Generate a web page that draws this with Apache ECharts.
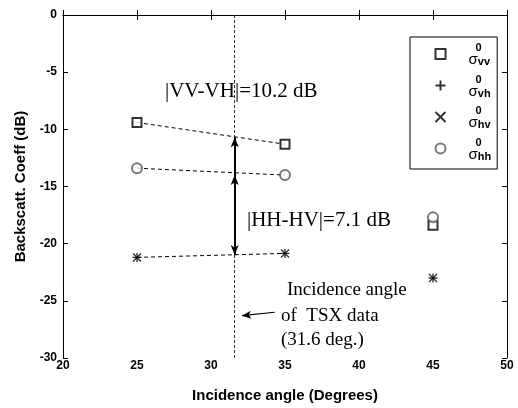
<!DOCTYPE html>
<html>
<head>
<meta charset="utf-8">
<script src="https://cdn.jsdelivr.net/npm/echarts@6/dist/echarts.min.js"></script>
<style>
  html, body { margin: 0; padding: 0; background: #fff; }
  #main { width: 518px; height: 408px; }
</style>
</head>
<body>
<div id="main"></div>
<script>
// values
const angles = [25, 35, 45];
const sigmaVV = [-9.4, -11.3, -18.4];
const sigmaVH = [-21.2, -20.85, -23.0];
const sigmaHV = [-21.2, -20.85, -23.0];
const sigmaHH = [-13.4, -14.0, -17.7];
const xTicks = [20, 25, 30, 35, 40, 45, 50];
const yTicks = [-30, -25, -20, -15, -10, -5, 0];
const tsxAngle = 31.6;
// where the arrows meet the dashed lines at the TSX angle
const arrowVV = -10.7;
const arrowHH = -14.0;
const arrowVH = -21.0;
// small arrow pointing at the TSX line
const noteArrowFrom = [34.3, -26.0];
const noteArrowTo = [32.1, -26.3];

const sans = 'Liberation Sans';

function pts(ys, n) {
    return angles.slice(0, n || angles.length).map((a, i) => [a, ys[i]]);
}

const plusPath = 'path://M5 0 L5 10 M0 5 L10 5';
const crossPath = 'path://M0 0 L10 10 M10 0 L0 10';

const legendLabels = {
    vv: '{g|}{h|}{z|0}\n{g|}{s|σ}{b|vv}',
    vh: '{g|}{h|}{z|0}\n{g|}{s|σ}{b|vh}',
    hv: '{g|}{h|}{z|0}\n{g|}{s|σ}{b|hv}',
    hh: '{g|}{h|}{z|0}\n{g|}{s|σ}{b|hh}'
};

function dashed(ys) {
    return {
        type: 'line', data: pts(ys, 2), symbol: 'none', silent: true,
        lineStyle: { color: '#000', width: 1, type: [4, 3] }, z: 1
    };
}

let myChart = echarts.init(document.getElementById('main'));
myChart.setOption({
    animation: false,
    backgroundColor: '#fff',
    grid: { left: 63, right: 11, top: 15, bottom: 43 },
    xAxis: [
        {
            type: 'value', min: xTicks[0], max: xTicks[xTicks.length - 1], interval: 5,
            name: 'Incidence angle (Degrees)', nameLocation: 'middle', nameGap: 30,
            nameTextStyle: { fontFamily: sans, fontWeight: 'bold', fontSize: 15, color: '#000' },
            axisLine: { lineStyle: { color: '#000', width: 1 } },
            axisTick: { inside: true, length: 5, lineStyle: { color: '#000' } },
            axisLabel: { fontFamily: sans, fontWeight: 'bold', fontSize: 12, color: '#000', margin: 2 },
            splitLine: { show: false }
        },
        {
            type: 'value', position: 'top', min: xTicks[0], max: xTicks[xTicks.length - 1], interval: 5,
            axisLine: { lineStyle: { color: '#000', width: 1 } },
            axisTick: { inside: true, length: 5, lineStyle: { color: '#000' } },
            axisLabel: { show: false }, splitLine: { show: false }
        }
    ],
    yAxis: [
        {
            type: 'value', min: yTicks[0], max: yTicks[yTicks.length - 1], interval: 5,
            name: 'Backscatt. Coeff (dB)', nameLocation: 'middle', nameGap: 34,
            nameTextStyle: { fontFamily: sans, fontWeight: 'bold', fontSize: 15, color: '#000' },
            axisLine: { lineStyle: { color: '#000', width: 1 } },
            axisTick: { inside: true, length: 5, lineStyle: { color: '#000' } },
            axisLabel: { fontFamily: sans, fontWeight: 'bold', fontSize: 12, color: '#000', margin: 6 },
            splitLine: { show: false }
        },
        {
            type: 'value', position: 'right', min: yTicks[0], max: yTicks[yTicks.length - 1], interval: 5,
            axisLine: { lineStyle: { color: '#000', width: 1 } },
            axisTick: { inside: true, length: 5, lineStyle: { color: '#000' } },
            axisLabel: { show: false }, splitLine: { show: false }
        }
    ],
    legend: {
        orient: 'vertical', left: 410, top: 37,
        padding: [5, 6, 7, 23], itemGap: 6,
        itemWidth: 10, itemHeight: 10,
        borderColor: '#000', borderWidth: 1,
        data: ['vv', 'vh', 'hv', 'hh'],
        formatter: name => legendLabels[name],
        textStyle: {
            color: '#000',
            rich: {
                g: { width: 18 },
                h: { width: 7 },
                z: { fontFamily: sans, fontWeight: 'bold', fontSize: 11, lineHeight: 10, color: '#000' },
                s: { fontFamily: sans, fontSize: 15, lineHeight: 12, color: '#000' },
                b: { fontFamily: sans, fontWeight: 'bold', fontSize: 11, lineHeight: 12, padding: [4, 0, 0, 0], color: '#000' }
            }
        }
    },
    series: [
        dashed(sigmaVV),
        dashed(sigmaHH),
        dashed(sigmaVH),
        {
            name: 'vv', type: 'scatter', data: pts(sigmaVV), symbol: 'emptyRect', symbolSize: 9,
            itemStyle: { color: '#000', borderWidth: 1.6 }, z: 3
        },
        {
            name: 'vh', type: 'scatter', data: pts(sigmaVH), symbol: plusPath, symbolSize: 9,
            itemStyle: { color: 'none', borderColor: '#000', borderWidth: 1.4 }, z: 3
        },
        {
            name: 'hv', type: 'scatter', data: pts(sigmaHV), symbol: crossPath, symbolSize: 8,
            itemStyle: { color: 'none', borderColor: '#000', borderWidth: 1.4 }, z: 3
        },
        {
            name: 'hh', type: 'scatter', data: pts(sigmaHH), symbol: 'emptyCircle', symbolSize: 10,
            itemStyle: { color: '#555', borderWidth: 1.4 }, z: 3
        },
        {
            name: 'annot', type: 'line', data: [], z: 2,
            markLine: {
                silent: true, animation: false,
                label: { show: false },
                data: [
                    [
                        { coord: [tsxAngle, 0], symbol: 'none', lineStyle: { color: '#333', width: 1, type: [3, 2] } },
                        { coord: [tsxAngle, -30], symbol: 'none' }
                    ],
                    [
                        { coord: [tsxAngle, arrowVV], symbol: 'arrow', symbolSize: [6, 10], lineStyle: { color: '#000', width: 2, type: 'solid' } },
                        { coord: [tsxAngle, arrowVH], symbol: 'arrow', symbolSize: [6, 10] }
                    ],
                    [
                        { coord: [tsxAngle, arrowHH], symbol: 'arrow', symbolSize: [6, 10], lineStyle: { color: '#000', width: 2, type: 'solid' } },
                        { coord: [tsxAngle, arrowHH - 1], symbol: 'none' }
                    ],
                    [
                        { coord: noteArrowFrom, symbol: 'none', lineStyle: { color: '#000', width: 1.2, type: 'solid' } },
                        { coord: noteArrowTo, symbol: 'arrow', symbolSize: [6, 9] }
                    ]
                ]
            }
        }
    ],
    graphic: [
        { type: 'text', left: 165, top: 81, style: { text: '|VV-VH|=10.2 dB', font: '21px "Liberation Serif"', fill: '#000' } },
        { type: 'text', left: 247, top: 210, style: { text: '|HH-HV|=7.1 dB', font: '21px "Liberation Serif"', fill: '#000' } },
        { type: 'text', left: 287, top: 281, style: { text: 'Incidence angle', font: '19px "Liberation Serif"', fill: '#000' } },
        { type: 'text', left: 281, top: 307, style: { text: 'of  TSX data', font: '19px "Liberation Serif"', fill: '#000' } },
        { type: 'text', left: 281, top: 331, style: { text: '(31.6 deg.)', font: '19px "Liberation Serif"', fill: '#000' } }
    ]
});
</script>
</body>
</html>
